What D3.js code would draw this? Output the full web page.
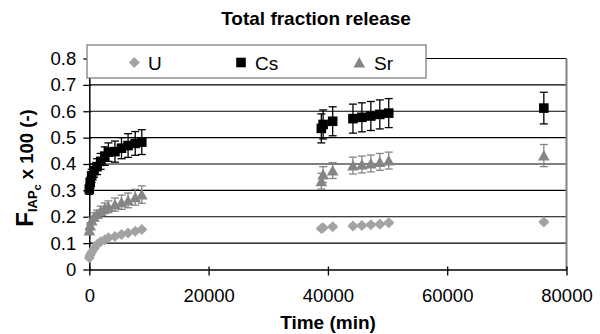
<!DOCTYPE html>
<html>
<head>
<meta charset="utf-8">
<script src="https://cdn.jsdelivr.net/npm/d3@7"></script>
<style>
  html, body { margin: 0; padding: 0; background: #fff; }
  svg { display: block; font-family: Arial, "Liberation Sans", Helvetica, sans-serif; }
</style>
</head>
<body>
<svg id="chart" width="600" height="334"></svg>
<script>
// ---- data ----
const times = [0, 150, 400, 800, 1300, 1900, 2600, 3200, 4300, 5400, 6500, 7700, 8800,
               38900, 39200, 40800, 44200, 45700, 47200, 48700, 50200, 76200];
const uVals  = [0.045, 0.055, 0.065, 0.08, 0.095, 0.105, 0.113, 0.12, 0.125, 0.133, 0.138, 0.145, 0.152,
                0.155, 0.158, 0.162, 0.165, 0.167, 0.17, 0.172, 0.177, 0.18];
const uErr   = [0.004, 0.004, 0.004, 0.005, 0.005, 0.005, 0.005, 0.005, 0.005, 0.005, 0.005, 0.005, 0.005,
                0.006, 0.006, 0.006, 0.006, 0.006, 0.006, 0.006, 0.006, 0.006];
const csVals = [0.305, 0.33, 0.355, 0.375, 0.39, 0.41, 0.43, 0.445, 0.447, 0.46, 0.47, 0.478, 0.483,
                0.535, 0.55, 0.562, 0.572, 0.577, 0.582, 0.588, 0.593, 0.612];
const csErr  = [0.02, 0.02, 0.025, 0.025, 0.03, 0.03, 0.035, 0.035, 0.04, 0.04, 0.045, 0.045, 0.047,
                0.055, 0.055, 0.055, 0.055, 0.055, 0.055, 0.055, 0.055, 0.06];
const srVals = [0.148, 0.167, 0.186, 0.2, 0.21, 0.222, 0.232, 0.238, 0.246, 0.255, 0.262, 0.274, 0.284,
                0.335, 0.36, 0.375, 0.394, 0.398, 0.402, 0.408, 0.413, 0.432];
const srErr  = [0.008, 0.01, 0.012, 0.015, 0.015, 0.018, 0.02, 0.022, 0.025, 0.027, 0.028, 0.03, 0.033,
                0.03, 0.03, 0.03, 0.032, 0.032, 0.032, 0.032, 0.032, 0.042];
const seriesNames = ["U", "Cs", "Sr"];
const xTicks = [0, 20000, 40000, 60000, 80000];
const yTicks = [0, 0.1, 0.2, 0.3, 0.4, 0.5, 0.6, 0.7, 0.8];

// ---- styling ----
const colors = { U: "#a3a3a3", Cs: "#000000", Sr: "#858585" };
const errColors = { U: "#a3a3a3", Cs: "#000000", Sr: "#858585" };

const svg = d3.select("#chart");
const pL = 89.3, pR = 566.5, pT = 58.5, pB = 269.5;
const x = d3.scaleLinear().domain([0, 80000]).range([pL, pR]);
const y = d3.scaleLinear().domain([0, 0.8]).range([pB, pT]);

// title
svg.append("text").attr("x", 316).attr("y", 25).attr("text-anchor", "middle")
  .attr("font-size", 19).attr("font-weight", "bold").text("Total fraction release");

// gridlines
svg.append("g").selectAll("line").data(yTicks.filter(d => d > 0)).join("line")
  .attr("x1", pL).attr("x2", pR).attr("y1", d => y(d)).attr("y2", d => y(d))
  .attr("stroke", "#000").attr("stroke-width", 1.2);
// right border
svg.append("line").attr("x1", pR).attr("x2", pR).attr("y1", pT).attr("y2", pB)
  .attr("stroke", "#808080").attr("stroke-width", 2);

// y axis
const yAxis = d3.axisLeft(y).tickValues(yTicks).tickFormat(d => d === 0 ? "0" : d3.format(".1f")(d))
  .tickSizeInner(6).tickSizeOuter(0).tickPadding(7);
const gy = svg.append("g").attr("transform", `translate(${pL},0)`).call(yAxis);
gy.select(".domain").attr("stroke", "#000").attr("stroke-width", 1.5);
gy.selectAll(".tick line").attr("stroke", "#000").attr("stroke-width", 1.3).attr("x2", -6).attr("x1", 2);
gy.selectAll("text").attr("font-size", 18.5).attr("font-family", "Arial, 'Liberation Sans', sans-serif").attr("fill", "#000");

// x axis
const xAxis = d3.axisBottom(x).tickValues(xTicks).tickFormat(d3.format("d"))
  .tickSizeInner(6).tickSizeOuter(0).tickPadding(13);
const gx = svg.append("g").attr("transform", `translate(0,${pB})`).call(xAxis);
gx.select(".domain").attr("stroke", "#000").attr("stroke-width", 1.5);
gx.selectAll(".tick line").attr("stroke", "#000").attr("stroke-width", 1.3).attr("y1", -3).attr("y2", 6);
gx.selectAll("text").attr("font-size", 18.5).attr("font-family", "Arial, 'Liberation Sans', sans-serif").attr("fill", "#000");

// axis titles
svg.append("text").attr("x", 328).attr("y", 329).attr("text-anchor", "middle")
  .attr("font-size", 19).attr("font-weight", "bold").text("Time (min)");

const yl = svg.append("text").attr("transform", "translate(33,168) rotate(-90)")
  .attr("text-anchor", "middle").attr("font-weight", "bold");
yl.append("tspan").attr("font-size", 24).text("F");
yl.append("tspan").attr("font-size", 13).attr("dy", 4).text("IAP");
yl.append("tspan").attr("font-size", 11).attr("dy", 4).text("c");
yl.append("tspan").attr("font-size", 18.5).attr("dy", -8).text(" x 100 (-)");

// marker shapes
function markerPath(name) {
  if (name === "U") return "M0,-5.5L5.5,0L0,5.5L-5.5,0Z";
  if (name === "Cs") return "M-4.8,-4.8H4.8V4.8H-4.8Z";
  return "M0,-5.5L5.8,5L-5.8,5Z";
}

const seriesData = {
  U:  times.map((t, i) => ({ t, v: uVals[i], e: uErr[i] })),
  Cs: times.map((t, i) => ({ t, v: csVals[i], e: csErr[i] })),
  Sr: times.map((t, i) => ({ t, v: srVals[i], e: srErr[i] }))
};

seriesNames.forEach(name => {
  const g = svg.append("g");
  const data = seriesData[name];
  const ec = errColors[name];
  const eb = g.selectAll("g.eb").data(data).join("g").attr("class", "eb");
  eb.append("line").attr("x1", d => x(d.t)).attr("x2", d => x(d.t))
    .attr("y1", d => y(d.v - d.e)).attr("y2", d => y(d.v + d.e))
    .attr("stroke", ec).attr("stroke-width", 1.3);
  eb.append("line").attr("x1", d => x(d.t) - 4).attr("x2", d => x(d.t) + 4)
    .attr("y1", d => y(d.v + d.e)).attr("y2", d => y(d.v + d.e))
    .attr("stroke", ec).attr("stroke-width", 1.3);
  eb.append("line").attr("x1", d => x(d.t) - 4).attr("x2", d => x(d.t) + 4)
    .attr("y1", d => y(d.v - d.e)).attr("y2", d => y(d.v - d.e))
    .attr("stroke", ec).attr("stroke-width", 1.3);
  g.selectAll("path.mk").data(data).join("path").attr("class", "mk")
    .attr("d", markerPath(name))
    .attr("transform", d => `translate(${x(d.t)},${y(d.v)})`)
    .attr("fill", colors[name]);
});

// legend
const lg = svg.append("g");
lg.append("rect").attr("x", 87).attr("y", 45).attr("width", 339).attr("height", 33)
  .attr("fill", "#fff").attr("stroke", "#808080").attr("stroke-width", 1.3);
const legendPos = { U: [134.3, 148], Cs: [241, 255], Sr: [359.3, 374] };
seriesNames.forEach(name => {
  const [mx, tx] = legendPos[name];
  lg.append("path").attr("d", markerPath(name)).attr("transform", `translate(${mx},62.5)`).attr("fill", colors[name]);
  lg.append("text").attr("x", tx).attr("y", 69.5).attr("font-size", 19).text(name);
});
</script>
</body>
</html>
